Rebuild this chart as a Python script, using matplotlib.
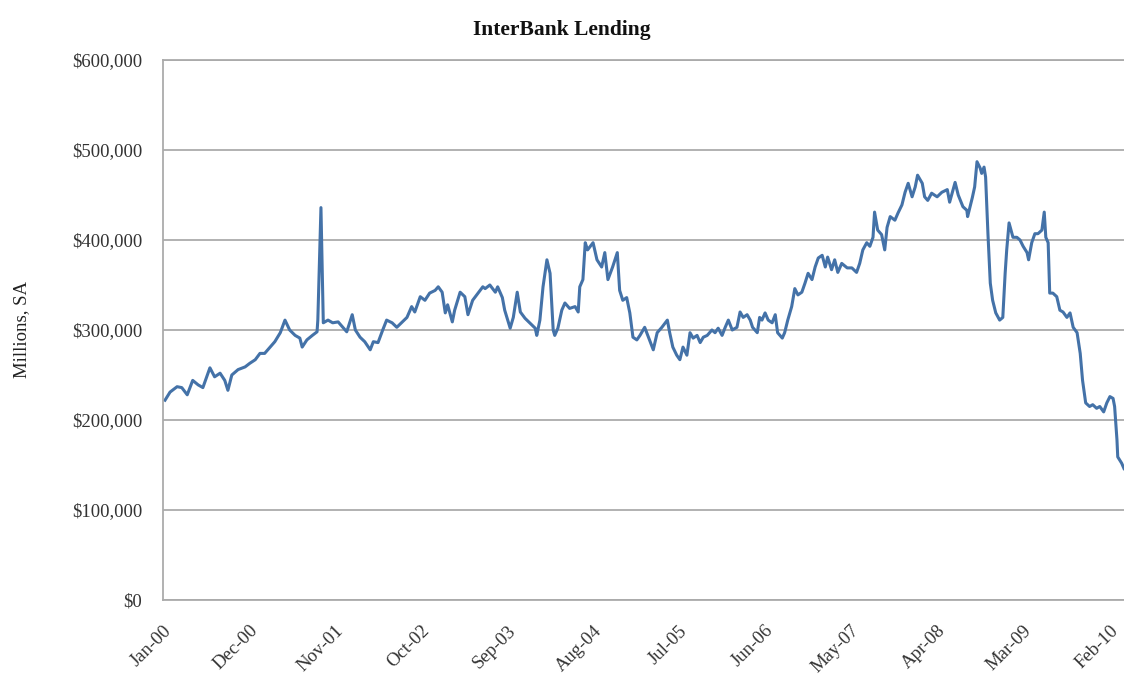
import matplotlib
matplotlib.use("Agg")
import matplotlib.pyplot as plt
import matplotlib.ticker as mticker
import pandas as pd
import numpy as np

# ---- data: months elapsed since Jan-2000 and lending (thousands of $ millions)
months = [
    0.26, 0.9, 1.8, 2.4, 3.1, 3.8, 4.5, 5.1, 6.0, 6.6, 7.3, 7.9, 8.3, 8.8, 9.6,
    10.5, 11.1, 11.8, 12.4, 13.0, 13.7, 14.3, 15.0, 15.6, 16.2, 16.9, 17.5, 17.8,
    18.4, 19.1, 19.7, 19.8, 20.2, 20.5, 20.7, 21.1, 21.7, 22.4, 23.0, 23.5, 24.2,
    24.6, 25.2, 25.8, 26.5, 26.9, 27.5, 28.1, 28.6, 29.3, 29.9, 30.6, 31.2, 31.8,
    32.2, 32.9, 33.5, 34.1, 34.8, 35.2, 35.7, 36.1, 36.4, 37.0, 37.3, 38.0, 38.6,
    39.0, 39.6, 40.3, 40.9, 41.2, 41.8, 42.5, 42.8, 43.4, 43.7, 44.4, 44.8, 45.3,
    45.7, 46.3, 46.9, 47.6, 47.8, 48.2, 48.6, 49.1, 49.5, 49.9, 50.1, 50.5, 51.0,
    51.4, 52.0, 52.7, 53.1, 53.3, 53.7, 54.0, 54.3, 55.0, 55.5, 56.1, 56.5, 56.9,
    57.5, 58.1, 58.4, 58.8, 59.3, 59.7, 60.1, 60.6, 61.0, 61.6, 62.3, 62.7, 63.2,
    63.8, 64.5, 64.8, 65.2, 65.7, 66.1, 66.5, 67.0, 67.4, 67.8, 68.3, 68.7, 69.1,
    69.6, 70.2, 70.6, 71.0, 71.5, 71.9, 72.3, 72.8, 73.4, 73.8, 74.2, 74.7, 75.1,
    75.4, 76.0, 76.3, 76.6, 77.0, 77.4, 77.9, 78.3, 78.6, 79.2, 79.5, 79.9, 80.4,
    80.8, 81.2, 81.7, 82.1, 82.5, 83.0, 83.4, 83.8, 84.3, 84.7, 85.0, 85.5, 85.9,
    86.3, 86.8, 87.5, 88.1, 88.7, 89.1, 89.5, 90.0, 90.4, 90.8, 91.0, 91.4, 91.9,
    92.3, 92.6, 93.0, 93.6, 94.0, 94.5, 94.9, 95.3, 95.8, 96.2, 96.5, 97.1, 97.4,
    97.8, 98.3, 99.0, 99.6, 100.3, 100.6, 101.3, 101.7, 102.3, 102.8, 102.9, 103.5,
    103.8, 104.1, 104.5, 104.7, 105.0, 105.2, 105.5, 105.8, 106.1, 106.5, 107.0,
    107.4, 107.7, 107.9, 108.2, 108.7, 109.2, 109.6, 110.0, 110.5, 110.7, 111.1,
    111.5, 111.9, 112.4, 112.7, 112.9, 113.2, 113.4, 113.8, 114.3, 114.7, 115.1,
    115.6, 116.0, 116.4, 116.9, 117.3, 117.6, 118.0, 118.5, 118.9, 119.4, 119.8,
    120.3, 120.7, 121.1, 121.5, 121.7, 122.0, 122.1, 122.6, 122.9,
]
lending_k = [
    222, 231, 237, 236, 228, 244, 239, 236, 258, 248, 252, 244, 233, 250, 256,
    259, 263, 267, 274, 274, 281, 287, 297, 311, 300, 294, 291, 281,
    289, 294, 298, 311, 436, 308, 309, 311, 308, 309, 303, 298, 317,
    300, 292, 287, 278, 287, 286, 300, 311, 308, 303, 309, 314, 326,
    320, 337, 333, 341, 344, 348, 342, 319, 328, 309, 322, 342, 337,
    317, 333, 341, 348, 346, 350, 342, 348, 336, 322, 302, 314, 342,
    320, 313, 308, 302, 294, 311, 348, 378, 363, 300, 294, 302, 322,
    330, 324, 326, 320, 348, 356, 397, 389, 397, 378, 370, 386, 356,
    370, 386, 344, 333, 336, 319, 292, 289, 294, 303, 287, 278, 297,
    303, 311, 297, 281, 272, 267, 281, 272, 297, 291, 294, 286, 292,
    294, 300, 297, 302, 294, 303, 311, 300, 303, 320, 314, 317, 311,
    303, 297, 314, 311, 319, 311, 308, 317, 297, 291, 297, 311, 326,
    346, 339, 342, 352, 363, 356, 370, 380, 383, 370, 381, 367, 378,
    364, 374, 369, 369, 364, 374, 389, 397, 393, 403, 431, 411, 406,
    389, 414, 426, 422, 430, 439, 453, 463, 448, 459, 472, 463, 448,
    444, 452, 448, 453, 456, 442, 464, 450, 437, 433, 426, 447,
    459, 487, 480, 474, 481, 470, 407, 352, 333, 319, 311,
    314, 363, 389, 419, 403, 403, 400, 393, 386, 378, 397,
    407, 407, 411, 431, 403, 397, 341, 341, 337, 322, 320,
    314, 319, 303, 297, 274, 244, 219, 215, 217, 213, 215,
    209, 219, 226, 224, 215, 178, 159, 152, 146,
]
tick_labels = ["Jan-00", "Dec-00", "Nov-01", "Oct-02", "Sep-03", "Aug-04",
               "Jul-05", "Jun-06", "May-07", "Apr-08", "Mar-09", "Feb-10"]
title = "InterBank Lending"
ylabel = "Millions, SA"

# ---- build series
start = pd.Timestamp("2000-01-01")
dates = start + pd.to_timedelta(np.array(months) * 30.4375, unit="D")
values = np.array(lending_k) * 1000.0
tick_dates = pd.date_range("2000-01-01", periods=len(tick_labels), freq="11MS")

serif = ["Liberation Serif", "DejaVu Serif"]

fig = plt.figure(figsize=(11.24, 6.77), dpi=100)
ax = fig.add_axes([163 / 1124, 1 - 600 / 677, 1 - 163 / 1124, 540 / 677])

ax.plot(dates, values, color="#4472a8", linewidth=2.2, solid_joinstyle="round")

ax.set_ylim(0, 600000)
ax.set_xlim(start, start + pd.Timedelta(days=122.9 * 30.4375))
ax.yaxis.set_major_locator(mticker.MultipleLocator(100000))
ax.yaxis.set_major_formatter(mticker.FuncFormatter(lambda v, p: f"${v:,.0f}"))
ax.grid(axis="y", color="#ababab", linewidth=1.3)
ax.set_axisbelow(True)

ax.set_xticks(tick_dates)
ax.set_xticklabels(tick_labels, rotation=45, ha="right", rotation_mode="anchor")

for lab in ax.get_yticklabels() + ax.get_xticklabels():
    lab.set_fontfamily(serif)
    lab.set_fontsize(13.5)
    lab.set_color("#333333")

ax.tick_params(axis="both", length=0)
ax.tick_params(axis="y", pad=15)
ax.tick_params(axis="x", pad=16)

for s in ["left", "bottom", "top"]:
    ax.spines[s].set_color("#ababab")
    ax.spines[s].set_linewidth(1.3)
ax.spines["right"].set_visible(False)

fig.text(22 / 1124, 1 - 330 / 677, ylabel, rotation=90, ha="center", va="center",
         fontsize=13.5, family=serif, color="#222222")
fig.text(562 / 1124, 1 - 30 / 677, title, ha="center", va="center",
         fontsize=15.5, family=serif, fontweight="bold", color="#111111")

fig.savefig("out.png", dpi=100)
